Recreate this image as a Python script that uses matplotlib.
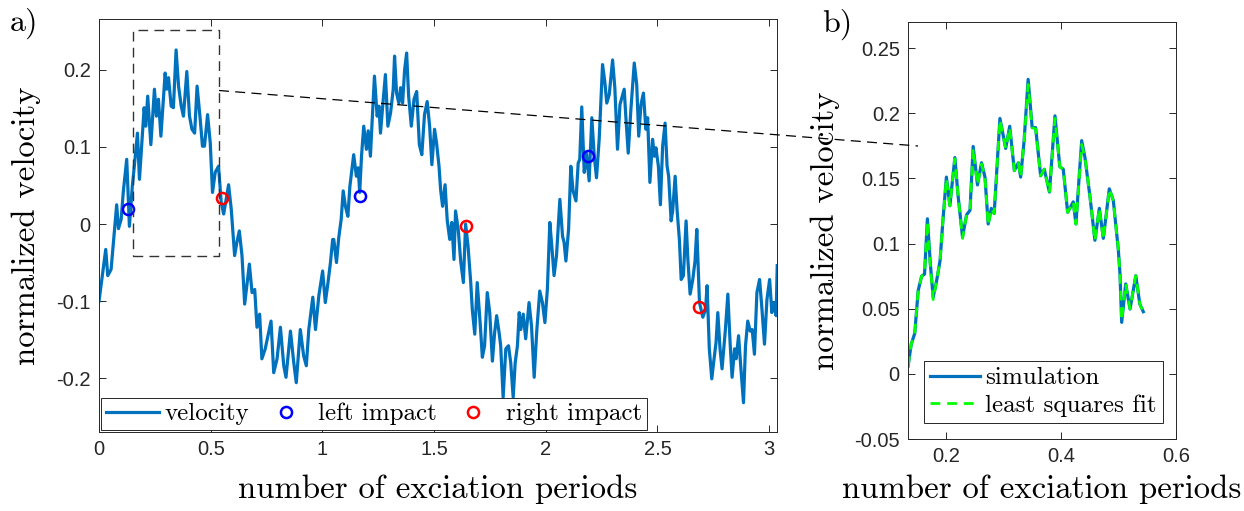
import matplotlib
matplotlib.use("Agg")
import matplotlib.pyplot as plt
from matplotlib.lines import Line2D
from matplotlib.ticker import FuncFormatter
import numpy as np

plt.rcParams['axes.unicode_minus'] = False

## velocity over the full run (three pieces)
t_seg1 = [0.000, 0.030, 0.039, 0.054, 0.079, 0.087, 0.099, 0.109, 0.124, 0.136,
          0.149, 0.158, 0.172, 0.181, 0.202, 0.209, 0.218, 0.232, 0.248, 0.257,
          0.266, 0.277, 0.296, 0.303, 0.311, 0.323, 0.333, 0.345, 0.356, 0.368,
          0.378, 0.393, 0.405, 0.416, 0.428, 0.439, 0.453, 0.463, 0.472, 0.486,
          0.498, 0.508, 0.520, 0.535, 0.547, 0.558, 0.580, 0.592, 0.607, 0.617,
          0.628, 0.640, 0.652, 0.673, 0.685, 0.697, 0.707, 0.719, 0.729, 0.744,
          0.770, 0.782, 0.797, 0.812, 0.827, 0.837, 0.857, 0.871, 0.883, 0.901,
          0.916, 0.928, 0.939, 0.957, 0.969, 0.984, 1.001, 1.013, 1.025, 1.036,
          1.046]
v_seg1 = [-0.100, -0.033, -0.067, -0.059, 0.025, -0.006, 0.006, 0.043, 0.084, -0.003,
          0.049, 0.075, 0.118, 0.058, 0.151, 0.127, 0.166, 0.103, 0.175, 0.140,
          0.162, 0.114, 0.196, 0.175, 0.190, 0.153, 0.151, 0.226, 0.179, 0.153,
          0.140, 0.198, 0.140, 0.123, 0.118, 0.179, 0.136, 0.101, 0.101, 0.142,
          0.105, 0.041, 0.067, 0.075, 0.028, 0.013, 0.051, 0.019, -0.041, -0.024,
          -0.009, -0.041, -0.104, -0.052, -0.089, -0.085, -0.134, -0.117, -0.175, -0.162,
          -0.126, -0.193, -0.175, -0.134, -0.184, -0.199, -0.139, -0.178, -0.206, -0.137,
          -0.171, -0.184, -0.137, -0.095, -0.137, -0.093, -0.061, -0.102, -0.076, -0.050,
          -0.020]

t_seg2 = [1.051, 1.063, 1.073, 1.084, 1.093, 1.103, 1.114, 1.123, 1.140, 1.152,
          1.160, 1.167, 1.175, 1.185, 1.197, 1.205, 1.215, 1.223, 1.233, 1.245,
          1.253, 1.260, 1.271, 1.282, 1.293, 1.305, 1.317, 1.323, 1.332, 1.342,
          1.350, 1.359, 1.368, 1.377, 1.386, 1.398, 1.410, 1.422, 1.434, 1.445,
          1.457, 1.469, 1.480, 1.490, 1.502, 1.511, 1.522, 1.529, 1.538, 1.549,
          1.559, 1.570, 1.579, 1.589, 1.596, 1.608, 1.619, 1.631, 1.641, 1.652,
          1.664, 1.671, 1.682, 1.693, 1.706, 1.716, 1.726, 1.738, 1.749, 1.761,
          1.771, 1.780, 1.791, 1.798, 1.809, 1.821, 1.833, 1.843, 1.854, 1.863,
          1.873, 1.881, 1.888, 1.899, 1.910, 1.925, 1.936, 1.948, 1.960, 1.973,
          1.985, 1.996, 2.007, 2.018, 2.027, 2.037, 2.048, 2.063]
v_seg2 = [-0.020, -0.050, -0.018, 0.006, 0.043, 0.023, 0.010, 0.049, 0.090, 0.062,
          0.073, 0.041, 0.088, 0.127, 0.097, 0.121, 0.088, 0.136, 0.192, 0.140,
          0.153, 0.118, 0.157, 0.194, 0.127, 0.144, 0.175, 0.218, 0.170, 0.157,
          0.177, 0.157, 0.200, 0.222, 0.166, 0.127, 0.162, 0.172, 0.103, 0.090,
          0.142, 0.159, 0.127, 0.077, 0.123, 0.105, 0.075, 0.045, 0.023, 0.051,
          0.004, -0.020, 0.002, -0.046, 0.017, -0.007, -0.048, -0.076, -0.000, -0.029,
          -0.076, -0.111, -0.143, -0.076, -0.128, -0.173, -0.158, -0.089, -0.115, -0.178,
          -0.141, -0.119, -0.141, -0.158, -0.225, -0.162, -0.158, -0.180, -0.225, -0.180,
          -0.158, -0.115, -0.137, -0.117, -0.149, -0.102, -0.132, -0.199, -0.137, -0.087,
          -0.102, -0.128, -0.085, 0.002, -0.029, -0.067, -0.041, 0.032]

t_seg3 = [2.075, 2.082, 2.090, 2.102, 2.112, 2.122, 2.135, 2.145, 2.152, 2.161,
          2.172, 2.182, 2.194, 2.206, 2.217, 2.227, 2.239, 2.254, 2.264, 2.273,
          2.284, 2.299, 2.309, 2.321, 2.332, 2.351, 2.359, 2.369, 2.381, 2.396,
          2.407, 2.416, 2.426, 2.437, 2.448, 2.456, 2.466, 2.478, 2.486, 2.493,
          2.504, 2.513, 2.523, 2.534, 2.543, 2.550, 2.561, 2.568, 2.579, 2.588,
          2.598, 2.606, 2.616, 2.628, 2.636, 2.646, 2.658, 2.668, 2.676, 2.688,
          2.703, 2.715, 2.722, 2.732, 2.743, 2.752, 2.762, 2.770, 2.780, 2.789,
          2.804, 2.815, 2.825, 2.834, 2.845, 2.852, 2.863, 2.872, 2.885, 2.894,
          2.904, 2.915, 2.924, 2.934, 2.945, 2.957, 2.967, 2.979, 2.990, 3.002,
          3.012, 3.021, 3.031, 3.036]
v_seg3 = [-0.016, -0.024, -0.048, -0.007, 0.075, 0.043, 0.030, 0.079, 0.084, 0.152,
          0.067, 0.092, 0.056, 0.138, 0.088, 0.060, 0.110, 0.207, 0.185, 0.157,
          0.168, 0.213, 0.177, 0.097, 0.155, 0.175, 0.136, 0.092, 0.149, 0.209,
          0.181, 0.114, 0.155, 0.170, 0.123, 0.138, 0.054, 0.110, 0.088, 0.099,
          0.075, 0.025, 0.101, 0.131, 0.075, 0.062, 0.004, 0.017, 0.062, 0.017,
          -0.020, -0.072, -0.067, 0.004, -0.046, -0.091, -0.072, -0.048, -0.007, -0.102,
          -0.121, -0.111, -0.080, -0.162, -0.201, -0.178, -0.154, -0.115, -0.162, -0.188,
          -0.137, -0.091, -0.154, -0.199, -0.162, -0.175, -0.145, -0.182, -0.232, -0.158,
          -0.126, -0.139, -0.137, -0.169, -0.089, -0.072, -0.108, -0.156, -0.098, -0.072,
          -0.115, -0.102, -0.119, -0.054]

## impacts
t_left_imp = [0.1315, 1.167, 2.191]
v_left_imp = [0.019, 0.036, 0.088]
t_right_imp = [0.550, 1.644, 2.688]
v_right_imp = [0.034, -0.002, -0.108]

## zoomed window: simulation and fit
t_zoom = [0.1345, 0.140, 0.146, 0.152, 0.158, 0.163, 0.168, 0.173, 0.178, 0.184,
          0.190, 0.195, 0.201, 0.207, 0.2157, 0.221, 0.229, 0.236, 0.242, 0.2475,
          0.255, 0.262, 0.268, 0.2736, 0.279, 0.284, 0.294, 0.304, 0.311, 0.319,
          0.326, 0.330, 0.336, 0.343, 0.350, 0.356, 0.3647, 0.371, 0.380, 0.3896,
          0.398, 0.404, 0.4116, 0.4214, 0.426, 0.436, 0.4417, 0.4504, 0.459, 0.4667,
          0.4736, 0.484, 0.491, 0.4997, 0.5026, 0.5055, 0.5125, 0.52, 0.530, 0.537,
          0.543]
v_sim = [0.006, 0.023, 0.031, 0.064, 0.075, 0.0765, 0.119, 0.085, 0.0587, 0.0714,
         0.087, 0.118, 0.151, 0.129, 0.166, 0.138, 0.105, 0.122, 0.1255, 0.1745,
         0.145, 0.162, 0.151, 0.115, 0.127, 0.123, 0.196, 0.173, 0.190, 0.156,
         0.162, 0.151, 0.179, 0.226, 0.189, 0.189, 0.152, 0.157, 0.1395, 0.198,
         0.159, 0.157, 0.124, 0.132, 0.115, 0.179, 0.166, 0.136, 0.1025, 0.127,
         0.104, 0.142, 0.133, 0.095, 0.0765, 0.0395, 0.069, 0.0497, 0.0753, 0.0536,
         0.0477]
v_fit = [0.006, 0.023, 0.031, 0.064, 0.075, 0.0765, 0.117, 0.083, 0.057, 0.0714,
         0.087, 0.118, 0.150, 0.129, 0.165, 0.138, 0.104, 0.122, 0.1255, 0.173,
         0.145, 0.161, 0.151, 0.114, 0.127, 0.123, 0.195, 0.173, 0.189, 0.156,
         0.162, 0.151, 0.178, 0.222, 0.189, 0.188, 0.152, 0.157, 0.139, 0.196,
         0.159, 0.157, 0.124, 0.132, 0.115, 0.176, 0.166, 0.136, 0.102, 0.127,
         0.103, 0.142, 0.133, 0.095, 0.0765, 0.041, 0.069, 0.050, 0.0753, 0.0536,
         0.0477]

t_vel = np.array(t_seg1 + t_seg2 + t_seg3)
v_vel = np.array(v_seg1 + v_seg2 + v_seg3)

blue = '#0072BD'
axcol = '#262626'
serif = 'cmr10'
tickfont = 'Liberation Sans'

def fmt(val, pos):
    return '%g' % round(val, 4)

def style_axes(ax):
    for s in ax.spines.values():
        s.set_color(axcol)
        s.set_linewidth(0.7)
    ax.tick_params(direction='in', top=True, right=True, length=5, width=0.7,
                   color=axcol, labelcolor=axcol, labelsize=14.5, pad=6)
    for lab in ax.get_xticklabels() + ax.get_yticklabels():
        lab.set_fontfamily(tickfont)
    ax.xaxis.set_major_formatter(FuncFormatter(fmt))
    ax.yaxis.set_major_formatter(FuncFormatter(fmt))

fig = plt.figure(figsize=(12.44, 5.11), dpi=100)
ax1 = fig.add_axes([0.0796, 0.1546, 0.545, 0.808])
ax2 = fig.add_axes([0.730, 0.1409, 0.2154, 0.816])

## a) full velocity
ax1.plot(t_vel, v_vel, color=blue, lw=2.3, label='velocity')
ax1.plot(t_left_imp, v_left_imp, 'o', mfc='none', mec='#0000FF', ms=8, mew=1.8,
         label='left impact')
ax1.plot(t_right_imp, v_right_imp, 'o', mfc='none', mec='#FF0000', ms=8, mew=1.8,
         label='right impact')

# dashed box around the zoom window
bx = [0.153, 0.538, 0.538, 0.153, 0.153]
by = [-0.042, -0.042, 0.252, 0.252, -0.042]
ax1.plot(bx, by, color='#333333', lw=1.0, ls=(0, (7, 4.5)), zorder=4)

ax1.set_xlim(0, 3.035)
ax1.set_ylim(-0.27, 0.266)
ax1.set_xticks([0, 0.5, 1, 1.5, 2, 2.5, 3])
ax1.set_yticks([-0.2, -0.1, 0, 0.1, 0.2])
style_axes(ax1)
ax1.set_xlabel('number of exciation periods', fontfamily=serif, fontsize=23.6, labelpad=11)
ax1.set_ylabel('normalized velocity', fontfamily=serif, fontsize=23.6, labelpad=11)

leg1 = ax1.legend(loc='lower left', bbox_to_anchor=(0.003, 0.004), ncol=3,
                  prop={'family': serif, 'size': 18}, fancybox=False, framealpha=1,
                  edgecolor=axcol, borderaxespad=0, handlelength=2.1,
                  handletextpad=0.25, columnspacing=0.4, borderpad=0.2, numpoints=1)
leg1.get_frame().set_linewidth(0.7)

## b) zoomed window
ax2.plot(t_zoom, v_sim, color=blue, lw=2.3, label='simulation')
ax2.plot(t_zoom, v_fit, color='#00FF00', lw=2.0, ls=(0, (3.5, 2.5)), label='least squares fit')
ax2.set_xlim(t_zoom[0], 0.6)
ax2.set_ylim(-0.05, 0.27)
ax2.set_xticks([0.2, 0.4, 0.6])
ax2.set_yticks([-0.05, 0, 0.05, 0.1, 0.15, 0.2, 0.25])
style_axes(ax2)
ax2.set_xlabel('number of exciation periods', fontfamily=serif, fontsize=23.6, labelpad=6)
ax2.set_ylabel('normalized velocity', fontfamily=serif, fontsize=23.6, labelpad=10)

leg2 = ax2.legend(loc='lower left', bbox_to_anchor=(0.06, 0.038),
                  prop={'family': serif, 'size': 18}, fancybox=False, framealpha=1,
                  edgecolor=axcol, borderaxespad=0, handlelength=2.0,
                  handletextpad=0.2, labelspacing=0.2, borderpad=0.25)
leg2.get_frame().set_linewidth(0.7)

# connector from the box to panel b
fig.add_artist(Line2D([219 / 1244, 918 / 1244], [1 - 90.5 / 511, 1 - 146 / 511],
                      transform=fig.transFigure, color='k', lw=0.9,
                      ls=(0, (8, 5)), zorder=10))

fig.text(0.008, 0.985, 'a)', fontfamily=serif, fontsize=23, va='top', ha='left')
fig.text(0.661, 0.982, 'b)', fontfamily=serif, fontsize=23, va='top', ha='left')

fig.savefig('out.png', dpi=100)
